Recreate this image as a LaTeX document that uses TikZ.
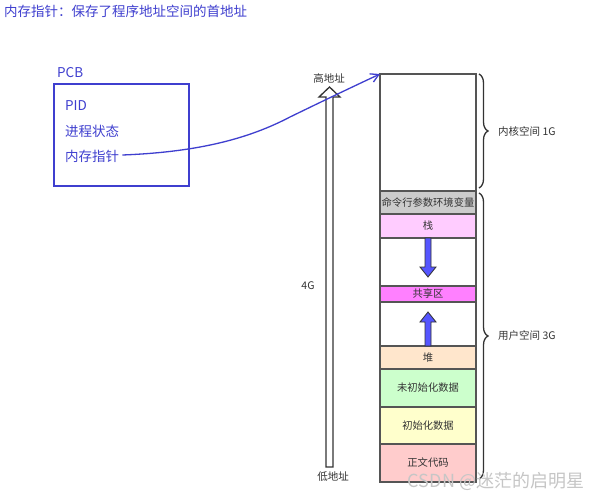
\documentclass[tikz,border=0pt]{standalone}
\usepackage{fontspec}
\setmainfont{Noto Sans CJK SC}
\usetikzlibrary{decorations.pathreplacing,arrows.meta}
\definecolor{pen}{HTML}{3F3FCF}
\definecolor{edge}{HTML}{555555}
\definecolor{ink}{HTML}{333333}
\definecolor{cmdc}{HTML}{CCCCCC}
\definecolor{stackc}{HTML}{FFCCFF}
\definecolor{sharec}{HTML}{FF80FF}
\definecolor{heapc}{HTML}{FFE6CC}
\definecolor{uninitc}{HTML}{CCFFCC}
\definecolor{initc}{HTML}{FFFFCC}
\definecolor{textc}{HTML}{FFCCCC}
\definecolor{arrc}{HTML}{5555FF}
\tikzset{
  blk/.style={draw=edge, line width=1.4pt, minimum width=96pt, inner sep=0pt, outer sep=0pt, text=ink, font=\fontsize{10.3}{10}\selectfont, anchor=center},
  lbl/.style={text=ink, font=\fontsize{10.5}{10}\selectfont, inner sep=0pt},
  pcbtxt/.style={text=pen, font=\fontsize{13.5}{14}\selectfont, inner sep=0pt, anchor=west},
  brc/.style={draw=ink, line width=1.3pt, decorate, decoration={brace, amplitude=9pt}},
  fatarrow/.style={fill=arrc, draw=ink, line width=0.8pt},
}
\begin{document}
\begin{tikzpicture}[x=1pt, y=-1pt]
\useasboundingbox (0,0) rectangle (608,500);
\fill[white] (0,0) rectangle (608,500);
% title
\node[text=pen, font=\fontsize{13.5}{14}\selectfont, anchor=west, inner sep=0pt] (title) at (4,11) {内存指针：保存了程序地址空间的首地址};
% PCB
\node[text=pen, font=\fontsize{13.5}{14}\selectfont, anchor=west, inner sep=0pt] (pcblbl) at (57,73) {PCB};
\node[draw=pen, line width=1.5pt, minimum width=135pt, minimum height=102pt, inner sep=0pt] (pcb) at (121.5,135) {};
\node[pcbtxt] (pid) at (65,106) {PID};
\node[pcbtxt] (state) at (65,131) {进程状态};
\node[pcbtxt] (ptr) at (65,156) {内存指针};
% memory column
\node[blk, fill=white, minimum height=117pt] (kernel) at (428,132.5) {};
\node[blk, fill=cmdc, minimum height=23pt] (cmd) at (428,202.5) {命令行参数环境变量};
\node[blk, fill=stackc, minimum height=24pt] (stack) at (428,226) {栈};
\node[blk, fill=white, minimum height=48pt] (gap1) at (428,262) {};
\node[blk, fill=sharec, minimum height=16pt] (shared) at (428,294) {共享区};
\node[blk, fill=white, minimum height=44pt] (gap2) at (428,324) {};
\node[blk, fill=heapc, minimum height=23pt] (heap) at (428,357.5) {堆};
\node[blk, fill=uninitc, minimum height=38pt] (uninit) at (428,388) {未初始化数据};
\node[blk, fill=initc, minimum height=37pt] (init) at (428,425.5) {初始化数据};
\node[blk, fill=textc, minimum height=38pt] (code) at (428,463) {正文代码};
% growth arrows
\draw[fatarrow] (425,238) -- (431,238) -- (431,267) -- (436,267) -- (428,277) -- (420,267) -- (425,267) -- cycle;
\draw[fatarrow] (425,346) -- (431,346) -- (431,322) -- (436,322) -- (428,312) -- (420,322) -- (425,322) -- cycle;
% braces
\draw[brc] ([xshift=3pt]kernel.north east) -- ([xshift=3pt,yshift=3pt]kernel.south east);
\draw[brc] ([xshift=3pt,yshift=-2pt]cmd.north east) -- ([xshift=3pt,yshift=3pt]code.south east);
\node[lbl, anchor=west] (klbl) at (498,131) {内核空间 1G};
\node[lbl, anchor=west] (ulbl) at (498,336) {用户空间 3G};
% address arrow
\draw[draw=ink, fill=white, line width=1.3pt] (326,467) -- (326,97) -- (319,97) -- (329.5,87) -- (340,97) -- (333,97) -- (333,467) -- cycle;
\node[lbl] (high) at (329,78) {高地址};
\node[lbl] (low) at (333,477) {低地址};
\node[lbl] (fourg) at (308,286) {4G};
% pointer curve
\draw[pen, line width=1.3pt, -{Straight Barb[length=8pt,width=9pt]}] ([xshift=3pt,yshift=1pt]ptr.east) .. controls (200,152) and (250,138) .. (290,117) .. controls (325,100) and (350,88) .. (kernel.north west);
% watermark
\node[text=gray!45, font=\fontsize{18}{18}\selectfont, inner sep=0pt] (wm) at (496,481) {CSDN @迷茫的启明星};
\end{tikzpicture}
\end{document}
